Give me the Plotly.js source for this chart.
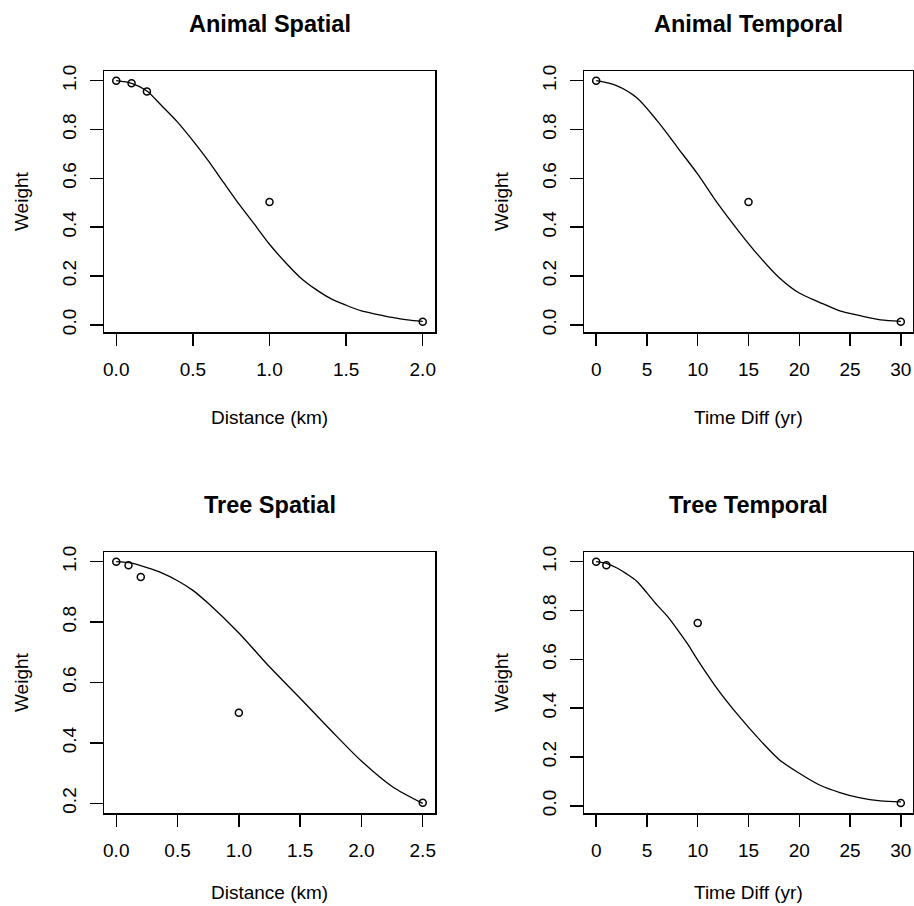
<!DOCTYPE html>
<html>
<head>
<meta charset="utf-8">
<script src="https://cdn.plot.ly/plotly-3.0.1.min.js"></script>
<style>html,body{margin:0;padding:0;background:#fff;}#chart{width:914px;height:906px;}</style>
</head>
<body>
<div id="chart"></div>
<script>
// ---- Panel titles and axis labels ----
const panelTitles = ["Animal Spatial", "Animal Temporal", "Tree Spatial", "Tree Temporal"];
const xLabels = ["Distance (km)", "Time Diff (yr)", "Distance (km)", "Time Diff (yr)"];
const yLabel = "Weight";

// ---- Tick values ----
const spatialTicksA = [0, 0.5, 1.0, 1.5, 2.0];
const spatialTicksT = [0, 0.5, 1.0, 1.5, 2.0, 2.5];
const temporalTicks = [0, 5, 10, 15, 20, 25, 30];
const weightTicksA = [0, 0.2, 0.4, 0.6, 0.8, 1.0];
const weightTicksT = [0.2, 0.4, 0.6, 0.8, 1.0];

// ---- Animal Spatial ----
const animalSpatialPtsX = [0, 0.1, 0.2, 1.0, 2.0];
const animalSpatialPtsY = [1.0, 0.989, 0.956, 0.503, 0.012];
const animalSpatialCurveX = [0, 0.1, 0.2, 0.3, 0.4, 0.5, 0.6, 0.7, 0.8, 0.9, 1.0, 1.1, 1.2, 1.3, 1.4, 1.5, 1.6, 1.7, 1.8, 1.9, 2.0];
const animalSpatialCurveY = [1.0, 0.989, 0.958, 0.895, 0.83, 0.754, 0.672, 0.583, 0.495, 0.413, 0.33, 0.258, 0.194, 0.146, 0.107, 0.08, 0.057, 0.043, 0.03, 0.02, 0.014];

// ---- Animal Temporal ----
const animalTemporalPtsX = [0, 15, 30];
const animalTemporalPtsY = [1.0, 0.503, 0.012];
const animalTemporalCurveX = [0, 2, 4, 6, 8, 10, 12, 14, 16, 18, 20, 22, 24, 26, 28, 30];
const animalTemporalCurveY = [1.0, 0.98, 0.93, 0.836, 0.727, 0.617, 0.495, 0.385, 0.283, 0.194, 0.13, 0.092, 0.057, 0.037, 0.02, 0.014];

// ---- Tree Spatial ----
const treeSpatialPtsX = [0, 0.1, 0.2, 1.0, 2.5];
const treeSpatialPtsY = [1.0, 0.988, 0.949, 0.50, 0.202];
const treeSpatialCurveX = [0, 0.125, 0.25, 0.375, 0.5, 0.625, 0.75, 1.0, 1.25, 1.5, 1.75, 2.0, 2.25, 2.5];
const treeSpatialCurveY = [1.0, 0.995, 0.98, 0.962, 0.937, 0.905, 0.862, 0.764, 0.652, 0.548, 0.442, 0.34, 0.256, 0.2];

// ---- Tree Temporal ----
const treeTemporalPtsX = [0, 1, 10, 30];
const treeTemporalPtsY = [1.0, 0.985, 0.749, 0.011];
const treeTemporalCurveX = [0, 1, 2, 3, 4, 5, 6, 7, 8, 9, 10, 12, 14, 16, 18, 20, 22, 24, 26, 28, 30];
const treeTemporalCurveY = [1.0, 0.993, 0.975, 0.95, 0.92, 0.872, 0.822, 0.777, 0.722, 0.663, 0.597, 0.475, 0.37, 0.275, 0.19, 0.133, 0.085, 0.054, 0.032, 0.02, 0.016];

const FONT = "Liberation Sans, Arial, sans-serif";
const W = 914, H = 906;
const px = v => v / W;
const py = v => 1 - v / H;

function curveTrace(x, y, xa, ya) {
  return {x: x, y: y, xaxis: xa, yaxis: ya, type: "scatter", mode: "lines",
          line: {color: "#000", width: 1.3, shape: "spline", smoothing: 0.8}, hoverinfo: "skip"};
}
function ptsTrace(x, y, xa, ya) {
  return {x: x, y: y, xaxis: xa, yaxis: ya, type: "scatter", mode: "markers",
          marker: {symbol: "circle-open", size: 7, color: "#000", line: {width: 1.5, color: "#000"}}};
}

const data = [
  curveTrace(animalSpatialCurveX, animalSpatialCurveY, "x", "y"),
  ptsTrace(animalSpatialPtsX, animalSpatialPtsY, "x", "y"),
  curveTrace(animalTemporalCurveX, animalTemporalCurveY, "x2", "y2"),
  ptsTrace(animalTemporalPtsX, animalTemporalPtsY, "x2", "y2"),
  curveTrace(treeSpatialCurveX, treeSpatialCurveY, "x3", "y3"),
  ptsTrace(treeSpatialPtsX, treeSpatialPtsY, "x3", "y3"),
  curveTrace(treeTemporalCurveX, treeTemporalCurveY, "x4", "y4"),
  ptsTrace(treeTemporalPtsX, treeTemporalPtsY, "x4", "y4")
];

function xAxis(domain, range, ticks, fmt, anchor) {
  return {domain: domain, range: range, anchor: anchor, tickmode: "array", tickvals: ticks,
          ticktext: ticks.map(fmt), showline: true, mirror: true, linecolor: "#000", linewidth: 1.5,
          ticks: "outside", ticklen: 12, tickwidth: 1.5, tickcolor: "#000", showgrid: false, zeroline: false,
          ticklabelstandoff: 8, tickfont: {family: FONT, size: 19, color: "#000"}};
}
function yAxis(domain, range, ticks, anchor) {
  return {domain: domain, range: range, anchor: anchor, tickmode: "array", tickvals: ticks,
          ticktext: ticks.map(v => v.toFixed(1)), showline: true, mirror: true, linecolor: "#000", linewidth: 1.5,
          ticks: "outside", ticklen: 13, tickwidth: 1.5, tickcolor: "#000", showgrid: false, zeroline: false,
          tickangle: -90, ticklabelstandoff: 6, tickfont: {family: FONT, size: 19, color: "#000"}};
}
const f1 = v => v.toFixed(1);
const f0 = v => String(v);

const dxL = [px(104), px(435)], dxR = [px(584), px(913)];
const dyT = [py(332), py(71)], dyB = [py(813), py(552)];

const annotations = [];
const cx = [(104 + 435) / 2, (584 + 913) / 2];
const titleY = [24, 505];
const xLabY = [417, 892];
const yLabX = [21, 501];
const yLabY = [201, 682];
for (let i = 0; i < 4; i++) {
  const c = i % 2, r = Math.floor(i / 2);
  annotations.push({text: "<b>" + panelTitles[i] + "</b>", xref: "paper", yref: "paper", x: px(cx[c]), y: py(titleY[r]),
    xanchor: "center", yanchor: "middle", showarrow: false, font: {family: FONT, size: 23.5, color: "#000"}});
  annotations.push({text: xLabels[i], xref: "paper", yref: "paper", x: px(cx[c]), y: py(xLabY[r]),
    xanchor: "center", yanchor: "middle", showarrow: false, font: {family: FONT, size: 19, color: "#000"}});
  annotations.push({text: yLabel, xref: "paper", yref: "paper", x: px(yLabX[c]), y: py(yLabY[r]),
    xanchor: "center", yanchor: "middle", textangle: -90, showarrow: false, font: {family: FONT, size: 19, color: "#000"}});
}

const layout = {
  width: W, height: H, margin: {l: 0, r: 0, t: 0, b: 0}, showlegend: false,
  paper_bgcolor: "#fff", plot_bgcolor: "#fff",
  xaxis: xAxis(dxL, [-0.08, 2.08], spatialTicksA, f1, "y"),
  yaxis: yAxis(dyT, [-0.0296, 1.0396], weightTicksA, "x"),
  xaxis2: xAxis(dxR, [-1.2, 31.2], temporalTicks, f0, "y2"),
  yaxis2: yAxis(dyT, [-0.0296, 1.0396], weightTicksA, "x2"),
  xaxis3: xAxis(dxL, [-0.1, 2.6], spatialTicksT, f1, "y3"),
  yaxis3: yAxis(dyB, [0.168, 1.032], weightTicksT, "x3"),
  xaxis4: xAxis(dxR, [-1.2, 31.2], temporalTicks, f0, "y4"),
  yaxis4: yAxis(dyB, [-0.0296, 1.0396], weightTicksA, "x4"),
  annotations: annotations
};

Plotly.newPlot("chart", data, layout, {displayModeBar: false, staticPlot: true});
</script>
</body>
</html>
